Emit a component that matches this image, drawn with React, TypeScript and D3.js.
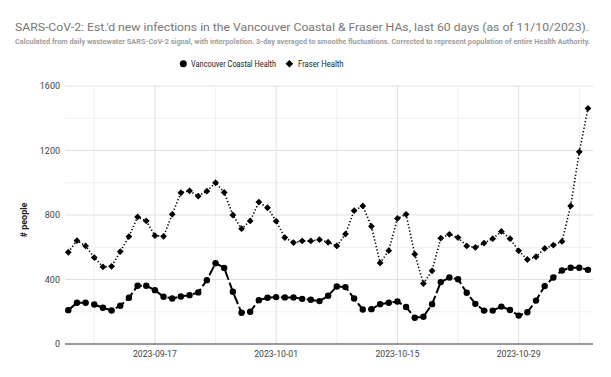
import React from "react";
import * as d3 from "d3";

const startDate = new Date(Date.UTC(2023, 8, 7));
const dayCount = 61;

const vancouverCoastal = [
  210, 256, 256, 245, 225, 208, 237, 287, 361, 361, 334, 293, 282, 295, 303, 320,
  396, 501, 472, 324, 194, 200, 272, 287, 291, 289, 289, 280, 274, 266, 299, 357,
  353, 282, 214, 216, 247, 256, 264, 229, 163, 169, 247, 384, 412, 402, 318, 249,
  207, 207, 232, 211, 176, 197, 269, 359, 412, 456, 473, 473, 460,
];

const fraser = [
  569, 641, 608, 536, 478, 482, 573, 666, 788, 763, 672, 668, 804, 938, 950, 917,
  948, 1000, 940, 800, 715, 763, 880, 845, 762, 660, 629, 639, 639, 647, 631, 608,
  682, 827, 856, 730, 503, 579, 779, 804, 557, 375, 454, 656, 680, 660, 608, 599,
  626, 653, 698, 653, 578, 524, 541, 593, 613, 636, 856, 1192, 1461,
];

const yTicks = [0, 400, 800, 1200, 1600];
const yMinorTicks = [200, 600, 1000, 1400];
const xMajorTicks = ["2023-09-17", "2023-10-01", "2023-10-15", "2023-10-29"];
const xMinorTicks = ["2023-09-10", "2023-09-24", "2023-10-08", "2023-10-22", "2023-11-05"];

const titleText =
  "SARS-CoV-2: Est.'d new infections in the Vancouver Coastal & Fraser HAs, last 60 days (as of 11/10/2023).";
const subtitleText =
  "Calculated from daily wastewater SARS-CoV-2 signal, with interpolation. 3-day averaged to smoothe fluctuations. Corrected to represent population of entire Health Authority.";
const seriesNames = ["Vancouver Coastal Health", "Fraser Health"];
const yAxisTitle = "# people";

const FONT = "Roboto, Arial, 'Liberation Sans', sans-serif";

export default function App() {
  const W = 611;
  const H = 377;
  const left = 65;
  const right = 593;
  const top = 86;
  const bottom = 344;
  const DAY = 86400000;

  const dates = d3.utcDay.range(startDate, d3.utcDay.offset(startDate, dayCount));
  const lastDate = dates[dates.length - 1];

  const x = d3
    .scaleUtc()
    .domain([new Date(+startDate - 0.38 * DAY), new Date(+lastDate + 0.58 * DAY)])
    .range([left, right]);
  const y = d3.scaleLinear().domain([0, 1600]).range([bottom, top]);

  const parse = d3.utcParse("%Y-%m-%d");

  const line = d3
    .line<number>()
    .x((_, i) => x(dates[i]))
    .y((d) => y(d));

  const diamond = (cx: number, cy: number, r: number) =>
    `M${cx},${cy - r}L${cx + r},${cy}L${cx},${cy + r}L${cx - r},${cy}Z`;

  return (
    <svg
      width={W}
      height={H}
      style={{ position: "absolute", left: 0, top: 0, background: "#fff" }}
      fontFamily={FONT}
    >
      <rect x={0} y={0} width={W} height={H} fill="#fff" />
      <text x={15} y={31} fontSize={11.5} fill="#777" textLength={574} lengthAdjust="spacingAndGlyphs">
        {titleText}
      </text>
      <text
        x={15}
        y={44}
        fontSize={6.6}
        fill="#9e9e9e"
        fontWeight="bold"
        textLength={575}
        lengthAdjust="spacingAndGlyphs"
      >
        {subtitleText}
      </text>

      {/* legend */}
      <circle cx={183.3} cy={63.8} r={3.5} fill="#000" />
      <text x={191} y={67} fontSize={9.5} fill="#222" textLength={85} lengthAdjust="spacingAndGlyphs">
        {seriesNames[0]}
      </text>
      <path d={diamond(289.4, 63.8, 3.8)} fill="#000" />
      <text x={298} y={67} fontSize={9.5} fill="#222" textLength={45.5} lengthAdjust="spacingAndGlyphs">
        {seriesNames[1]}
      </text>

      {/* gridlines */}
      {yMinorTicks.map((t) => (
        <line key={"ym" + t} x1={left} x2={right} y1={y(t)} y2={y(t)} stroke="#f0f0f0" />
      ))}
      {xMinorTicks.map((t) => (
        <line key={"xm" + t} x1={x(parse(t)!)} x2={x(parse(t)!)} y1={top} y2={bottom} stroke="#f0f0f0" />
      ))}
      {yTicks.filter((t) => t > 0).map((t) => (
        <line key={"y" + t} x1={left} x2={right} y1={y(t)} y2={y(t)} stroke="#e0e0e0" />
      ))}
      {xMajorTicks.map((t) => (
        <line key={"x" + t} x1={x(parse(t)!)} x2={x(parse(t)!)} y1={top} y2={bottom} stroke="#e0e0e0" />
      ))}
      <line x1={left} x2={right} y1={y(0)} y2={y(0)} stroke="#333" />

      {/* y tick labels */}
      {yTicks.map((t) => (
        <text key={"yl" + t} x={60} y={y(t) + 3.3} fontSize={9} fill="#444" textAnchor="end">
          {t}
        </text>
      ))}
      {/* x tick labels */}
      {xMajorTicks.map((t) => (
        <text
          key={"xl" + t}
          x={x(parse(t)!)}
          y={356.5}
          fontSize={9}
          fill="#444"
          textAnchor="middle"
          textLength={44}
          lengthAdjust="spacingAndGlyphs"
        >
          {t}
        </text>
      ))}

      <text
        transform={`translate(27,${(top + bottom) / 2 + 5}) rotate(-90)`}
        fontSize={9}
        fontWeight="bold"
        fill="#222"
        textAnchor="middle"
      >
        {yAxisTitle}
      </text>

      {/* series */}
      <path
        d={line(fraser)!}
        fill="none"
        stroke="#000"
        strokeWidth={1.6}
        strokeDasharray="1.3,2.1"
      />
      {fraser.map((v, i) => (
        <path key={"f" + i} d={diamond(x(dates[i]), y(v), 3.4)} fill="#000" />
      ))}
      <path
        d={line(vancouverCoastal)!}
        fill="none"
        stroke="#000"
        strokeWidth={2}
        strokeDasharray="10,3"
      />
      {vancouverCoastal.map((v, i) => (
        <circle key={"v" + i} cx={x(dates[i])} cy={y(v)} r={3.2} fill="#000" />
      ))}
    </svg>
  );
}
